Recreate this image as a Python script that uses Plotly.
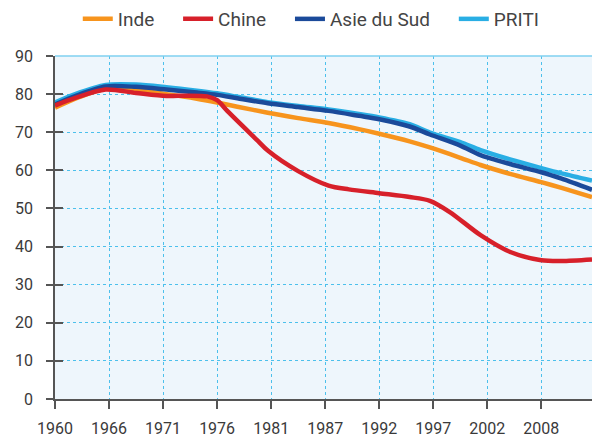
import plotly.graph_objects as go

# --- data ---
tick_labels = ["1960", "1966", "1971", "1976", "1981", "1987", "1992", "1997", "2002", "2008"]

years_common = [1960, 1962, 1965, 1968, 1971, 1974, 1976, 1978, 1981, 1984, 1987,
                1990, 1992, 1995, 1997, 2000, 2002, 2005, 2008, 2010, 2013]

inde = [76.4, 78.8, 81.4, 81.0, 80.0, 78.8, 77.8, 76.7, 75.1, 73.7, 72.4,
        70.8, 69.6, 67.6, 66.0, 63.3, 61.4, 59.0, 56.9, 55.4, 53.0]

asie_du_sud = [77.3, 79.5, 82.0, 81.9, 81.2, 80.4, 79.8, 78.9, 77.6, 76.6, 75.6,
               74.3, 73.4, 71.5, 69.4, 66.5, 64.0, 61.6, 59.5, 57.8, 54.9]

priti = [77.8, 80.0, 82.4, 82.5, 81.8, 80.9, 80.2, 79.3, 77.9, 76.9, 76.0,
         74.8, 73.9, 72.1, 69.9, 67.4, 65.3, 62.8, 60.6, 59.2, 57.3]

years_chine = [1960, 1962, 1965, 1968, 1971, 1973, 1975, 1976, 1977, 1980, 1981,
               1984, 1987, 1989, 1992, 1995, 1997, 1999, 2002, 2005, 2008, 2010, 2013]
chine = [77.0, 79.0, 81.2, 80.3, 79.5, 79.6, 79.4, 78.4, 75.6, 67.8, 65.2,
         59.8, 56.0, 55.0, 54.0, 53.0, 52.0, 49.0, 43.0, 38.5, 36.4, 36.2, 36.6]

y_ticks = [0, 10, 20, 30, 40, 50, 60, 70, 80, 90]

# --- styling ---
FONT = "Roboto, Noto Sans, sans-serif"
ORANGE = "#F7941D"
RED = "#D7202A"
DARKBLUE = "#1B4A9A"
LIGHTBLUE = "#29AEE4"
AXIS = "#555555"
GRID = "#4CC0EC"
TEXT = "#3a3a3a"
PAD = "\u00a0\u00a0\u00a0\u00a0"  # extra room after each legend entry

tick_step = (2008 - 1960) / (len(tick_labels) - 1)
tick_vals = [1960 + i * tick_step for i in range(len(tick_labels))]

fig = go.Figure()
series = [
    ("Inde", years_common, inde, ORANGE),
    ("Chine", years_chine, chine, RED),
    ("Asie du Sud", years_common, asie_du_sud, DARKBLUE),
    ("PRITI", years_common, priti, LIGHTBLUE),
]
# draw order: PRITI under the others, Chine on top, as in the reference
draw_order = [3, 0, 2, 1]
for i in draw_order:
    name, xs, ys, col = series[i]
    fig.add_trace(go.Scatter(
        x=xs, y=ys, name=name + PAD, mode="lines",
        line=dict(color=col, width=4.5, shape="spline", smoothing=0.8),
        legendrank=i + 1,
    ))

# invisible trace to activate the inner-tick axis
fig.add_trace(go.Scatter(x=[1960], y=[0], yaxis="y2", mode="markers",
                         marker=dict(opacity=0), showlegend=False, hoverinfo="skip"))

fig.update_layout(
    width=592, height=439,
    margin=dict(l=55, r=0, t=55, b=40),
    paper_bgcolor="white",
    plot_bgcolor="#EEF6FC",
    font=dict(family=FONT, size=16, color=TEXT),
    showlegend=True,
    legend=dict(
        orientation="h", x=0.494, xanchor="center", y=1.108, yanchor="middle",
        font=dict(family=FONT, size=19, color="#444444"),
        traceorder="normal", itemwidth=30, bgcolor="rgba(0,0,0,0)",
    ),
    xaxis=dict(
        range=[1960, 2013], tickvals=tick_vals, ticktext=tick_labels,
        showgrid=True, gridcolor=GRID, griddash="dot", gridwidth=1,
        showline=True, linecolor=AXIS, linewidth=1.5,
        ticks="outside", ticklen=8, tickcolor=AXIS, tickwidth=1.5,
        ticklabelstandoff=6, zeroline=False, automargin=False,
        tickfont=dict(family=FONT, size=16, color=TEXT),
    ),
    yaxis=dict(
        range=[0, 90], tickvals=y_ticks,
        showgrid=True, gridcolor=GRID, griddash="dot", gridwidth=1,
        showline=True, linecolor=AXIS, linewidth=1.5,
        ticks="outside", ticklen=7, tickcolor=AXIS, tickwidth=1.5,
        ticklabelstandoff=10, zeroline=False, automargin=False,
        tickfont=dict(family=FONT, size=16, color=TEXT),
    ),
    yaxis2=dict(
        range=[0, 90], tickvals=y_ticks, overlaying="y", side="left",
        showgrid=False, showline=False, showticklabels=False, zeroline=False,
        ticks="inside", ticklen=8, tickcolor=AXIS, tickwidth=1.5,
    ),
    shapes=[dict(type="line", xref="paper", yref="paper", x0=0, x1=1, y0=1, y1=1,
                 line=dict(color="#7FD0F0", width=1.5))],
)

fig.write_html("out.html", config={"displayModeBar": False},
               post_script="document.body.style.margin='0';")
